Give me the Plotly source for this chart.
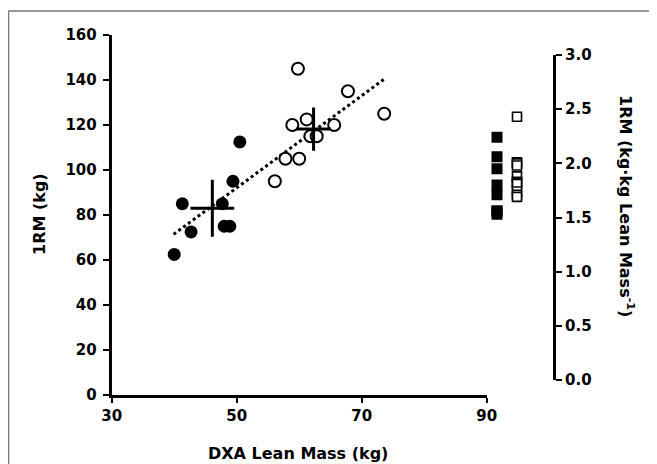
import plotly.graph_objects as go

# page is rendered with an 8px body margin, so the figure is shrunk by that offset
OFF = 8
W, H = 657 - OFF, 464 - OFF

# ---- data ----
lean_filled = [40.0, 41.3, 42.7, 47.7, 48.0, 48.9, 49.4, 50.5]
rm_filled = [62.5, 85.0, 72.5, 85.0, 75.0, 75.0, 95.0, 112.5]

lean_open = [59.8, 67.8, 73.6, 61.2, 58.9, 65.6, 61.8, 62.8, 57.8, 60.0, 56.1]
rm_open = [145.0, 135.0, 125.0, 122.5, 120.0, 120.0, 115.0, 115.0, 105.0, 105.0, 95.0]

rel_filled = [2.24, 2.06, 1.95, 1.80, 1.71, 1.56, 1.56, 1.53]
rel_open = [2.43, 2.01, 2.00, 1.98, 1.88, 1.83, 1.82, 1.81, 1.74, 1.71, 1.69]

mean_lean = [46.1, 62.3]
sd_lean = [3.5, 2.8]
mean_rm = [83.0, 118.2]
sd_rm = [12.7, 9.6]

trend_x = [39.9, 73.6]
trend_y = [71.4, 140.4]

x_ticks = [30, 50, 70, 90]
y_ticks = [0, 20, 40, 60, 80, 100, 120, 140, 160]
y2_ticks = [0.0, 0.5, 1.0, 1.5, 2.0, 2.5, 3.0]

# ---- layout geometry (page pixels -> paper) ----
def px(x):
    return (x - OFF) / W

def py(y):
    return 1 - (y - OFF) / H

FONT = "DejaVu Sans, Liberation Sans, Arial, sans-serif"
tickfont = dict(family=FONT, size=15, color="black", weight=700)

fig = go.Figure()

fig.add_trace(go.Scatter(
    x=trend_x, y=trend_y, mode="lines",
    line=dict(color="black", width=3, dash="3px,3px"),
    xaxis="x", yaxis="y", showlegend=False, hoverinfo="skip"))

fig.add_trace(go.Scatter(
    x=lean_filled, y=rm_filled, mode="markers",
    marker=dict(symbol="circle", size=13, color="black", line=dict(width=0)),
    xaxis="x", yaxis="y", showlegend=False))

fig.add_trace(go.Scatter(
    x=lean_open, y=rm_open, mode="markers",
    marker=dict(symbol="circle", size=12, color="white", line=dict(width=2, color="black")),
    xaxis="x", yaxis="y", showlegend=False))

fig.add_trace(go.Scatter(
    x=mean_lean, y=mean_rm, mode="markers",
    marker=dict(size=1, color="rgba(0,0,0,0)"),
    error_x=dict(type="data", array=sd_lean, width=0, thickness=3, color="black"),
    error_y=dict(type="data", array=sd_rm, width=0, thickness=3, color="black"),
    xaxis="x", yaxis="y", showlegend=False))

fig.add_trace(go.Scatter(
    x=[1] * len(rel_filled), y=rel_filled, mode="markers",
    marker=dict(symbol="square", size=11, color="black", line=dict(width=0)),
    xaxis="x2", yaxis="y2", showlegend=False))

fig.add_trace(go.Scatter(
    x=[2] * len(rel_open), y=rel_open, mode="markers",
    marker=dict(symbol="square", size=9, color="white", line=dict(width=1.6, color="black")),
    xaxis="x2", yaxis="y2", showlegend=False))

x_left, x_right = 111.7, 486.7
y_bot, y_top = 395, 35
x2_right = 553
y2_bot, y2_top = 380, 55

axis_common = dict(showgrid=False, zeroline=False, showline=True, linecolor="black",
                   linewidth=3, ticks="outside", tickcolor="black", tickwidth=2,
                   tickfont=tickfont, automargin=False)

title_font = dict(family=FONT, size=16, color="black", weight=700)

fig.update_layout(
    width=W, height=H,
    margin=dict(l=0, r=0, t=0, b=0, pad=0, autoexpand=False),
    paper_bgcolor="white", plot_bgcolor="white",
    xaxis=dict(domain=[px(x_left), px(x_right)], range=[30, 90], tickvals=x_ticks,
               ticklen=5, anchor="y", **axis_common),
    yaxis=dict(domain=[py(y_bot), py(y_top)], range=[0, 160], tickvals=y_ticks,
               ticklen=6, ticklabelstandoff=3, anchor="x", **axis_common),
    xaxis2=dict(domain=[px(x_right), px(x2_right)], range=[0.485, 3.8], visible=False,
                anchor="y2"),
    yaxis2=dict(domain=[py(y2_bot), py(y2_top)], range=[0, 3.0], tickvals=y2_ticks,
                tickformat=".1f", side="right", anchor="x2", ticklen=6, **axis_common),
    showlegend=False,
    annotations=[
        dict(text="1RM (kg)", x=px(40), y=py(214), xref="paper", yref="paper",
             xanchor="center", yanchor="middle",
             textangle=-90, showarrow=False, font=title_font),
        dict(text="DXA Lean Mass (kg)", x=px(298), y=py(453), xref="paper", yref="paper",
             xanchor="center", yanchor="middle",
             showarrow=False, font=title_font),
        dict(text="1RM (kg\u00b7kg Lean Mass<sup>-1</sup>)", x=px(627), y=py(206),
             xref="paper", yref="paper", xanchor="center", yanchor="middle",
             textangle=90, showarrow=False, font=title_font),
    ],
    shapes=[
        dict(type="line", xref="paper", yref="paper", x0=px(8.5), x1=px(8.5),
             y0=py(11), y1=-0.1, line=dict(color="#777777", width=1.5)),
        dict(type="line", xref="paper", yref="paper", x0=px(8.5), x1=1.1,
             y0=py(11), y1=py(11), line=dict(color="#777777", width=1.5)),
    ],
)

fig.write_html("out.html")
